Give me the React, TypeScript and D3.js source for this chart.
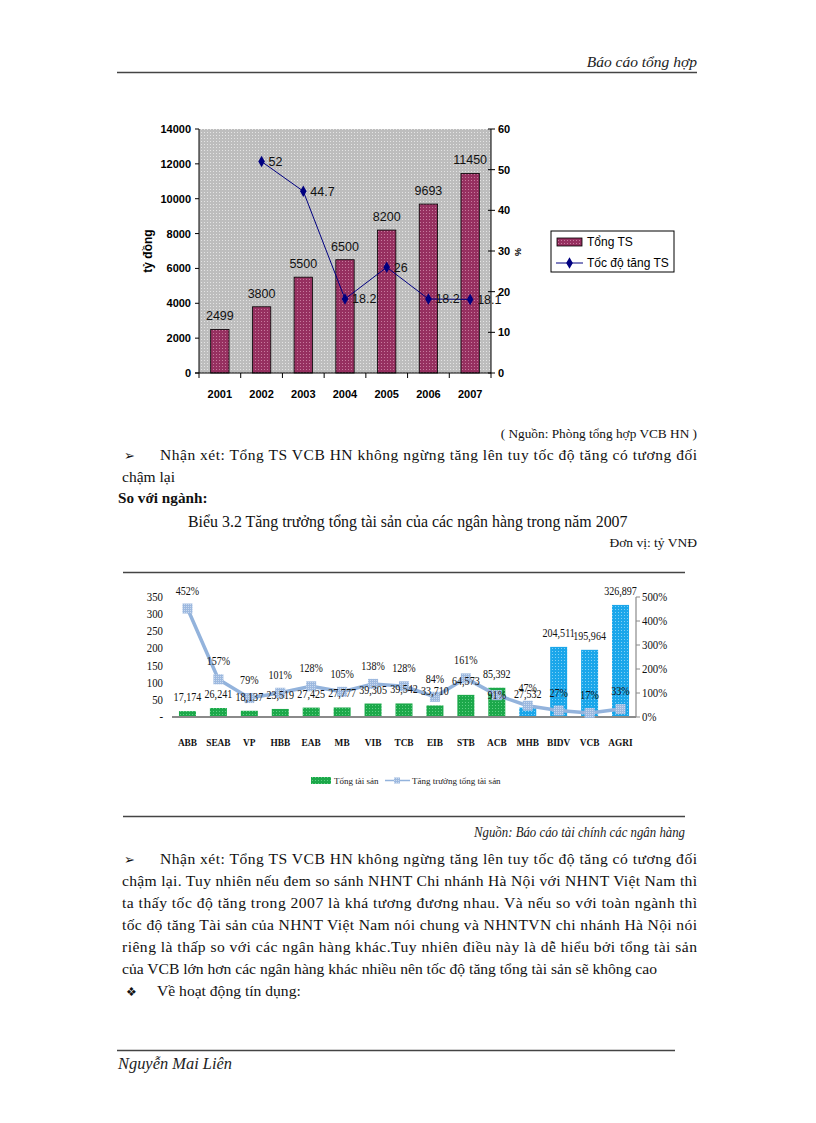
import React from 'react';
import * as d3 from 'd3';

// ---------- Chart 1 data ----------
const years = ['2001', '2002', '2003', '2004', '2005', '2006', '2007'];
const totalAssets = [2499, 3800, 5500, 6500, 8200, 9693, 11450];
const growthYears = ['2002', '2003', '2004', '2005', '2006', '2007'];
const growthRates = [52, 44.7, 18.2, 26, 18.2, 18.1];
const leftTicks1 = [0, 2000, 4000, 6000, 8000, 10000, 12000, 14000];
const rightTicks1 = [0, 10, 20, 30, 40, 50, 60];

// ---------- Chart 2 data ----------
const banks = ['ABB', 'SEAB', 'VP', 'HBB', 'EAB', 'MB', 'VIB', 'TCB', 'EIB', 'STB', 'ACB', 'MHB', 'BIDV', 'VCB', 'AGRI'];
const bankAssets = [17.174, 26.241, 18.137, 23.519, 27.425, 27.777, 39.305, 39.542, 33.71, 64.573, 85.392, 27.532, 204.511, 195.964, 326.897];
const bankAssetLabels = ['17,174', '26,241', '18,137', '23,519', '27,425', '27,777', '39,305', '39,542', '33,710', '64,573', '85,392', '27,532', '204,511', '195,964', '326,897'];
const bankGrowth = [452, 157, 79, 101, 128, 105, 138, 128, 84, 161, 91, 47, 27, 17, 33];
const stateBanks = ['MHB', 'BIDV', 'VCB', 'AGRI'];
const leftTicks2 = [0, 50, 100, 150, 200, 250, 300, 350];
const rightTicks2 = [0, 100, 200, 300, 400, 500];

// ---------- Text ----------
const para1 = [
  'Nhận xét: Tổng TS VCB HN không ngừng tăng lên tuy tốc độ tăng có tương đối',
  'chậm lại',
];
const para2 = [
  'Nhận xét: Tổng TS VCB HN không ngừng tăng lên tuy tốc độ tăng có tương đối',
  'chậm lại. Tuy nhiên nếu đem so sánh NHNT Chi nhánh Hà Nội với NHNT Việt Nam thì',
  'ta thấy tốc độ tăng trong 2007 là khá tương đương nhau. Và nếu so với toàn ngành thì',
  'tốc độ tăng Tài sản của NHNT Việt Nam nói chung và NHNTVN chi nhánh Hà Nội nói',
  'riêng là thấp so với các ngân hàng khác.Tuy nhiên điều này là dễ hiểu bởi tổng tài sản',
  'của VCB lớn hơn các ngân hàng khác nhiều  nên tốc độ tăng tổng tài sản sẽ không cao',
];

const SERIF = '"Liberation Serif", "Times New Roman", serif';
const SANS = '"Liberation Sans", Arial, sans-serif';

function Chart1() {
  const x = d3.scaleBand<string>().domain(years).range([199, 491]).padding(0);
  const yL = d3.scaleLinear().domain([0, 14000]).range([373, 129]);
  const yR = d3.scaleLinear().domain([0, 60]).range([373, 129]);
  const bw = x.bandwidth() * 0.44;
  const cx = (d: string) => (x(d) as number) + x.bandwidth() / 2;
  const line = d3
    .line<number>()
    .x((_, i) => cx(growthYears[i]))
    .y((d) => yR(d));
  const diamond = d3.symbol(d3.symbolDiamond, 38)() as string;
  return (
    <g fontFamily={SANS}>
      <rect x={199} y={129} width={292} height={244} fill="url(#greyDots)" />
      {years.map((yr, i) => (
        <rect
          key={yr}
          x={cx(yr) - bw / 2}
          y={yL(totalAssets[i])}
          width={bw}
          height={373 - yL(totalAssets[i])}
          fill="url(#maroonDots)"
          stroke="#000"
          strokeWidth={0.8}
        />
      ))}
      {/* axes */}
      <line x1={199} x2={199} y1={129} y2={373} stroke="#000" />
      <line x1={491} x2={491} y1={129} y2={373} stroke="#000" />
      <line x1={195} x2={491} y1={373} y2={373} stroke="#000" />
      {leftTicks1.map((t) => (
        <g key={t}>
          <line x1={195} x2={199} y1={yL(t)} y2={yL(t)} stroke="#000" />
          <text x={191} y={yL(t) + 4} textAnchor="end" fontSize={11} fontWeight="bold">
            {t}
          </text>
        </g>
      ))}
      {rightTicks1.map((t) => (
        <g key={t}>
          <line x1={488} x2={495} y1={yR(t)} y2={yR(t)} stroke="#000" />
          <text x={498} y={yR(t) + 4} textAnchor="start" fontSize={11} fontWeight="bold">
            {t}
          </text>
        </g>
      ))}
      {years.map((yr, i) => (
        <g key={yr}>
          <line x1={x(yr) as number} x2={x(yr) as number} y1={373} y2={378} stroke="#000" />
          <text x={cx(yr)} y={398} textAnchor="middle" fontSize={11} fontWeight="bold">
            {yr}
          </text>
        </g>
      ))}
      <line x1={491} x2={491} y1={373} y2={378} stroke="#000" />
      <text transform="translate(152,251) rotate(-90)" textAnchor="middle" fontSize={12} fontWeight="bold">
        tỷ đồng
      </text>
      <text transform="translate(521,252) rotate(-90)" textAnchor="middle" fontSize={9} fontWeight="bold">
        %
      </text>
      {/* line */}
      <path d={line(growthRates) as string} fill="none" stroke="#000080" strokeWidth={1} />
      {growthRates.map((v, i) => (
        <path key={i} d={diamond} transform={`translate(${cx(growthYears[i])},${yR(v)})`} fill="#000080" />
      ))}
      {/* bar labels */}
      {years.map((yr, i) => (
        <text key={yr} x={cx(yr)} y={yL(totalAssets[i]) - 9} textAnchor="middle" fontSize={12.5} fill="#111">
          {totalAssets[i]}
        </text>
      ))}
      {growthRates.map((v, i) => (
        <text key={i} x={cx(growthYears[i]) + 7} y={yR(v) + 4.5} textAnchor="start" fontSize={12.5} fill="#111">
          {v}
        </text>
      ))}
      {/* legend */}
      <rect x={551} y={231} width={123} height={41} fill="#fff" stroke="#000" strokeWidth={1} />
      <rect x={557} y={238} width={25} height={8} fill="url(#maroonDots)" stroke="#000" strokeWidth={0.8} />
      <text x={587} y={246} fontSize={12}>Tổng TS</text>
      <line x1={556} x2={583} y1={263} y2={263} stroke="#000080" />
      <path d={diamond} transform="translate(569.5,263)" fill="#000080" />
      <text x={587} y={267} fontSize={12}>Tốc độ tăng TS</text>
    </g>
  );
}

function NarrowText({ x, y, children, size = 11.5, anchor = 'middle', weight = 'normal', sx = 0.86 }: any) {
  return (
    <text
      transform={`translate(${x},${y}) scale(${sx},1)`}
      textAnchor={anchor}
      fontSize={size}
      fontWeight={weight}
      fill="#111"
    >
      {children}
    </text>
  );
}

function Chart2() {
  const x = d3.scaleBand<string>().domain(banks).range([172, 636]).padding(0);
  const yL = d3.scaleLinear().domain([0, 350]).range([717, 597]);
  const yR = d3.scaleLinear().domain([0, 500]).range([717, 597]);
  const bw = 17;
  const cx = (d: string) => (x(d) as number) + x.bandwidth() / 2;
  const line = d3
    .line<number>()
    .x((_, i) => cx(banks[i]))
    .y((d) => yR(d));
  const pctDy = (b: string) => (b === 'ACB' ? 4 : -14);
  return (
    <g fontFamily={SERIF}>
      {banks.map((b, i) => (
        <rect
          key={b}
          x={cx(b) - bw / 2}
          y={yL(bankAssets[i])}
          width={bw}
          height={717 - yL(bankAssets[i])}
          fill={stateBanks.includes(b) ? 'url(#blueDots)' : 'url(#greenDots)'}
        />
      ))}
      <line x1={172} x2={636} y1={717} y2={717} stroke="#8a8a8a" strokeWidth={2} />
      <line x1={636} x2={636} y1={597} y2={717} stroke="#8a8a8a" strokeWidth={1.2} />
      {rightTicks2.map((t) => (
        <g key={t}>
          <line x1={636} x2={640} y1={yR(t)} y2={yR(t)} stroke="#8a8a8a" />
          <NarrowText x={642} y={yR(t) + 4} anchor="start" size={12} sx={0.9}>
            {t}%
          </NarrowText>
        </g>
      ))}
      {leftTicks2.map((t) => (
        <NarrowText key={t} x={163} y={yL(t) + 4} anchor="end" size={12} sx={0.9}>
          {t === 0 ? '-' : t}
        </NarrowText>
      ))}
      {banks.map((b) => (
        <NarrowText key={b} x={cx(b)} y={746} size={11} weight="bold" sx={0.85}>
          {b}
        </NarrowText>
      ))}
      <path d={line(bankGrowth) as string} fill="none" stroke="#93b3dc" strokeWidth={3.5} strokeLinejoin="round" />
      {bankGrowth.map((v, i) => (
        <rect key={i} x={cx(banks[i]) - 5} y={yR(v) - 5} width={10} height={10} fill="url(#lineDots)" />
      ))}
      {banks.map((b, i) => (
        <NarrowText key={b} x={cx(b)} y={yL(bankAssets[i]) - 10} size={12} sx={0.84}>
          {bankAssetLabels[i]}
        </NarrowText>
      ))}
      {banks.map((b, i) => (
        <NarrowText key={b} x={cx(b)} y={yR(bankGrowth[i]) + pctDy(b)} size={12} sx={0.84}>
          {bankGrowth[i]}%
        </NarrowText>
      ))}
      {/* legend */}
      <rect x={311} y={777} width={20} height={7} fill="url(#greenDots)" />
      <text x={334} y={784} fontSize={9} fill="#222">Tổng tài sản</text>
      <line x1={385} x2={410} y1={780.5} y2={780.5} stroke="#93b3dc" strokeWidth={1.5} />
      <rect x={394} y={777.5} width={6} height={6} fill="url(#lineDots)" />
      <text x={412} y={784} fontSize={9} fill="#222">Tăng trưởng tổng tài sản</text>
    </g>
  );
}

export default function App() {
  return (
    <svg
      width={816}
      height={1123}
      viewBox="0 0 816 1123"
      style={{ position: 'absolute', left: 0, top: 0, background: '#fff' }}
    >
      <defs>
        <pattern id="greyDots" width={3} height={3} patternUnits="userSpaceOnUse">
          <rect width={3} height={3} fill="#bdbdbd" />
          <rect width={1} height={1} fill="#e4e4e4" />
        </pattern>
        <pattern id="maroonDots" width={3} height={3} patternUnits="userSpaceOnUse">
          <rect width={3} height={3} fill="#963060" />
          <rect width={1} height={1} fill="#c77a9e" />
        </pattern>
        <pattern id="greenDots" width={3} height={3} patternUnits="userSpaceOnUse">
          <rect width={3} height={3} fill="#1ca84a" />
          <rect width={1} height={1} fill="#5fd084" />
        </pattern>
        <pattern id="blueDots" width={3} height={3} patternUnits="userSpaceOnUse">
          <rect width={3} height={3} fill="#1aa6ea" />
          <rect width={1} height={1} fill="#7fd0f6" />
        </pattern>
        <pattern id="lineDots" width={2} height={2} patternUnits="userSpaceOnUse">
          <rect width={2} height={2} fill="#9db9df" />
          <rect width={1} height={1} fill="#c9d9ef" />
        </pattern>
      </defs>
      <rect width={816} height={1123} fill="#fff" />

      {/* header */}
      <text x={697} y={67} textAnchor="end" fontFamily={SERIF} fontStyle="italic" fontSize={15.5} fill="#222">
        Báo cáo tổng hợp
      </text>
      <line x1={117} x2={697} y1={72.5} y2={72.5} stroke="#444" strokeWidth={1.5} />

      <Chart1 />

      <g fontFamily={SERIF} fill="#111">
        <text x={697} y={438} textAnchor="end" fontSize={13.3}>
          ( Nguồn: Phòng tổng hợp VCB  HN )
        </text>
        <text x={124} y={460} fontSize={13}>➢</text>
        <text x={160} y={460} fontSize={15.5} textLength={537} lengthAdjust="spacing">
          {para1[0]}
        </text>
        <text x={122} y={482} fontSize={15.5}>{para1[1]}</text>
        <text x={118} y={503} fontSize={15.2} fontWeight="bold">So với ngành:</text>
        <text x={188} y={527} fontSize={15.9}>Biểu 3.2 Tăng trưởng tổng tài sản của các ngân hàng trong năm 2007</text>
        <text x={697} y={547} textAnchor="end" fontSize={13.5}>Đơn vị: tỷ VNĐ</text>
      </g>

      <line x1={123} x2={685} y1={572.5} y2={572.5} stroke="#444" strokeWidth={1.5} />
      <Chart2 />
      <line x1={123} x2={685} y1={816.5} y2={816.5} stroke="#444" strokeWidth={1.5} />
      <text
        x={474}
        y={837}
        fontFamily={SERIF}
        fontStyle="italic"
        fontSize={15}
        fill="#222"
        textLength={211}
        lengthAdjust="spacingAndGlyphs"
      >
        Nguồn: Báo cáo tài chính các ngân hàng
      </text>

      <g fontFamily={SERIF} fill="#111">
        <text x={124} y={864} fontSize={13}>➢</text>
        {para2.map((ln, i) => {
          const x0 = i === 0 ? 160 : 122;
          const justify = i < para2.length - 1;
          return (
            <text
              key={i}
              x={x0}
              y={864 + i * 22}
              fontSize={15.6}
              textLength={justify ? 697 - x0 : undefined}
              lengthAdjust={justify ? 'spacing' : undefined}
            >
              {ln}
            </text>
          );
        })}
        <text x={126} y={996} fontSize={12}>❖</text>
        <text x={157} y={996} fontSize={15.6}>Về hoạt động tín dụng:</text>
      </g>

      <line x1={117} x2={675} y1={1050.5} y2={1050.5} stroke="#444" strokeWidth={1.5} />
      <text
        x={118}
        y={1069}
        fontFamily={SERIF}
        fontStyle="italic"
        fontSize={16}
        fill="#222"
        textLength={114}
        lengthAdjust="spacingAndGlyphs"
      >
        Nguyễn Mai Liên
      </text>
    </svg>
  );
}
